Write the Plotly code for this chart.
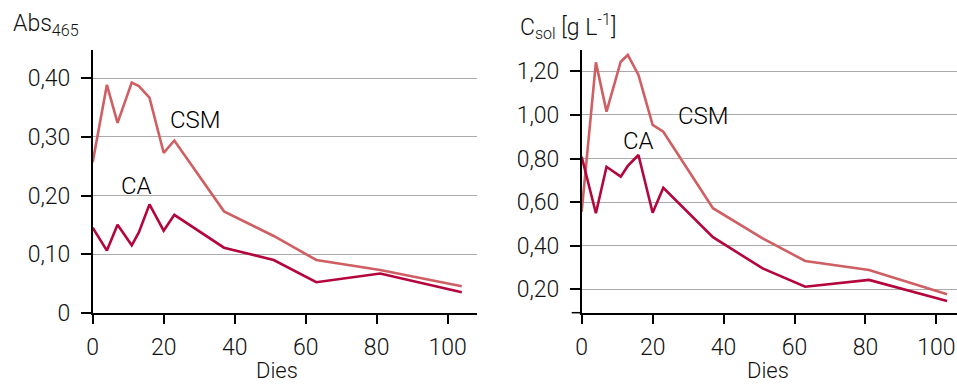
import plotly.graph_objects as go

# Sampling days (shared by both panels)
days = [0, 4, 7, 11, 13, 16, 20, 23, 37, 51, 63, 81, 104]
days_right = [0, 4, 7, 11, 13, 16, 20, 23, 37, 51, 63, 81, 103]

# Absorbance at 465 nm
abs_csm = [0.257, 0.389, 0.324, 0.393, 0.387, 0.367, 0.273, 0.294, 0.173, 0.131, 0.090, 0.073, 0.045]
abs_ca = [0.145, 0.106, 0.150, 0.115, 0.137, 0.185, 0.140, 0.167, 0.111, 0.090, 0.052, 0.067, 0.035]

# Soluble concentration (g/L)
csol_csm = [0.556, 1.241, 1.015, 1.244, 1.275, 1.183, 0.954, 0.923, 0.572, 0.434, 0.330, 0.289, 0.177]
csol_ca = [0.808, 0.549, 0.762, 0.717, 0.766, 0.816, 0.551, 0.666, 0.439, 0.296, 0.212, 0.243, 0.146]

# Axis ticks
x_ticks = [0, 20, 40, 60, 80, 100]
left_yticks = [0, 0.10, 0.20, 0.30, 0.40]
left_ytext = ["0", "0,10", "0,20", "0,30", "0,40"]
right_yticks = [0.20, 0.40, 0.60, 0.80, 1.00, 1.20]
right_ytext = ["0,20", "0,40", "0,60", "0,80", "1,00", "1,20"]

W, H = 957, 384
FONT = "Roboto"
TXT = "#111111"
CSM_COLOR = "#cf5f62"
CA_COLOR = "#b4053c"
GRID = "#ababab"


def px_x(p):
    return p / W


def px_y(p):
    return 1 - p / H


fig = go.Figure()
fig.add_trace(go.Scatter(x=days, y=abs_csm, mode="lines", line=dict(color=CSM_COLOR, width=2.6),
                         xaxis="x", yaxis="y", showlegend=False))
fig.add_trace(go.Scatter(x=days, y=abs_ca, mode="lines", line=dict(color=CA_COLOR, width=2.6),
                         xaxis="x", yaxis="y", showlegend=False))
fig.add_trace(go.Scatter(x=days_right, y=csol_csm, mode="lines", line=dict(color=CSM_COLOR, width=2.6),
                         xaxis="x2", yaxis="y2", showlegend=False))
fig.add_trace(go.Scatter(x=days_right, y=csol_ca, mode="lines", line=dict(color=CA_COLOR, width=2.6),
                         xaxis="x2", yaxis="y2", showlegend=False))

ydom = [px_y(312.7), px_y(50)]
tickfont = dict(family=FONT, size=23, color=TXT, weight=300)
titlefont = dict(family=FONT, size=22, color=TXT, weight=300)

xcommon = dict(showgrid=False, zeroline=False, showline=True, linecolor="black", linewidth=1.5,
               ticks="outside", ticklen=10, tickwidth=1.5, tickcolor="black", automargin=False,
               tickvals=x_ticks, tickfont=tickfont, ticklabelstandoff=3)
ycommon = dict(showgrid=True, gridcolor=GRID, gridwidth=1.2, zeroline=False, showline=True,
               linecolor="black", linewidth=1.5, ticks="outside", ticklen=10, tickwidth=1.5,
               tickcolor="black", tickfont=tickfont, ticklabelstandoff=6, automargin=False)

fig.update_layout(
    width=W, height=H,
    margin=dict(l=0, r=0, t=0, b=0, autoexpand=False),
    paper_bgcolor="white", plot_bgcolor="white",
    xaxis=dict(domain=[px_x(92.7), px_x(476.7)], range=[0, 108.2], anchor="y", **xcommon),
    yaxis=dict(domain=ydom, range=[0, 0.4485], anchor="x", tickvals=left_yticks,
               ticktext=left_ytext, **ycommon),
    xaxis2=dict(domain=[px_x(581.7), 1.0], range=[0, 105.8], anchor="y2", **xcommon),
    yaxis2=dict(domain=ydom, range=[0.0927, 1.2977], anchor="x2", tickvals=right_yticks,
                ticktext=right_ytext, **ycommon),
)

# Short extension of the right panel's bottom axis to the left of the y axis
fig.add_shape(type="line", xref="paper", yref="paper", x0=px_x(571.7), x1=px_x(581.7),
              y0=px_y(312.7), y1=px_y(312.7), line=dict(color="black", width=1.5))

labfont = dict(family=FONT, size=24, color="black", weight=300)
annots = [
    dict(x=29.0, y=0.329, xref="x", yref="y", text="CSM"),
    dict(x=12.3, y=0.217, xref="x", yref="y", text="CA"),
    dict(x=34.2, y=0.995, xref="x2", yref="y2", text="CSM"),
    dict(x=16.0, y=0.880, xref="x2", yref="y2", text="CA"),
]
for a in annots:
    fig.add_annotation(showarrow=False, font=labfont, xanchor="center", yanchor="middle", **a)

# Axis titles
for xc in (276.7, 768):
    fig.add_annotation(x=px_x(xc), y=0, xref="paper", yref="paper", text="Dies",
                       showarrow=False, font=titlefont, xanchor="center", yanchor="bottom",
                       borderpad=0)
fig.add_annotation(x=px_x(11), y=px_y(25), xref="paper", yref="paper", text="Abs<sub>465</sub>",
                   showarrow=False, font=tickfont, xanchor="left", yanchor="middle")
fig.add_annotation(x=px_x(518), y=px_y(26), xref="paper", yref="paper",
                   text="C<sub>sol</sub> [g L<sup>-1</sup>]",
                   showarrow=False, font=tickfont, xanchor="left", yanchor="middle")

fig.write_html("out.html")
